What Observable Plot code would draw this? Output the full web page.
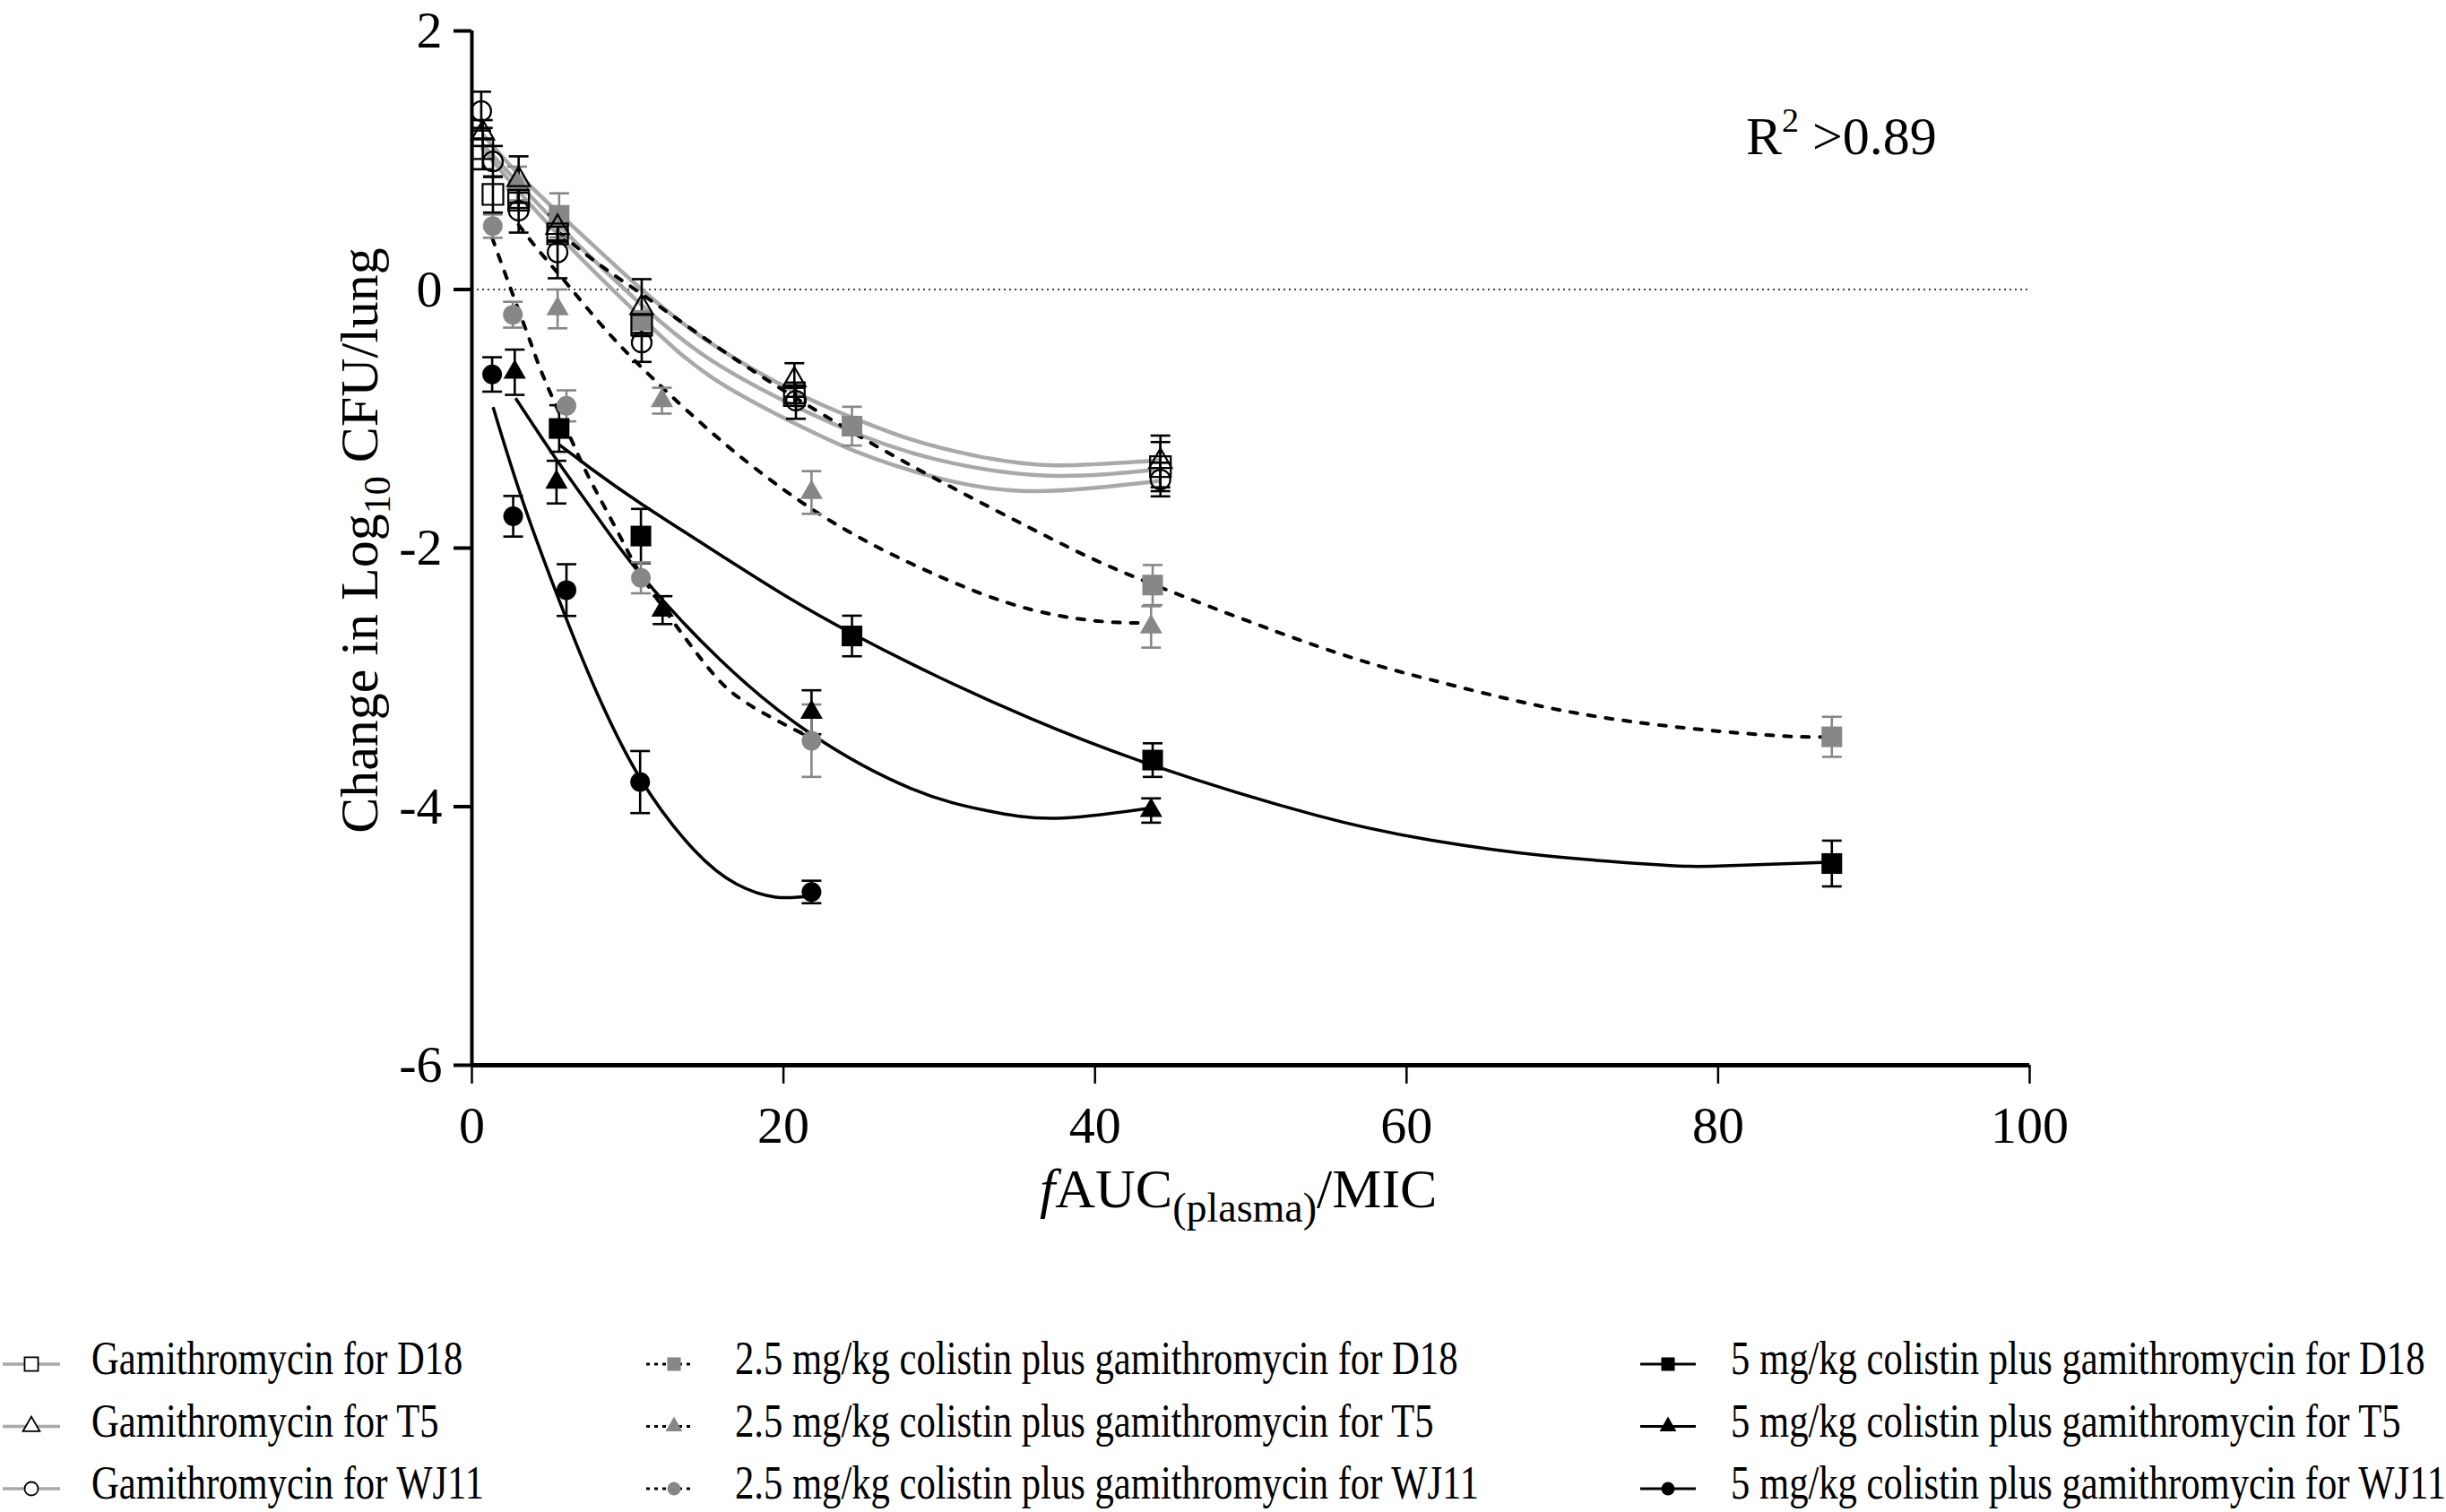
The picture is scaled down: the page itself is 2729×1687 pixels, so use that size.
<!DOCTYPE html>
<html>
<head>
<meta charset="utf-8">
<script src="https://cdn.jsdelivr.net/npm/d3@7"></script>
<script src="https://cdn.jsdelivr.net/npm/@observablehq/plot@0.6"></script>
<style>
  html, body { margin: 0; padding: 0; background: #fff; }
  body { width: 2729px; height: 1687px; overflow: hidden; }
  #chart svg, #legend svg { display: block; }
  #chart svg text, #legend svg text { font-family: "Liberation Serif", "Times New Roman", serif; }
</style>
</head>
<body>
<div id="chart"></div>
<div id="legend"></div>
<script>
// ---------- data ----------
const xTicks = [0, 20, 40, 60, 80, 100];
const yTicks = [-6, -4, -2, 0, 2];

// observed points: [fAUC/MIC, change in log10 CFU/lung, error]
const gamiD18  = [[0.7,1.09,0.16],[1.35,0.735,0.14],[3.0,0.69,0.06],[5.5,0.43,0.06],[10.9,-0.276,0.06],[20.7,-0.82,0.06],[44.2,-1.37,0.19]];
const gamiT5   = [[0.7,1.21,0.10],[3.0,0.85,0.18],[5.5,0.48,0.10],[10.9,-0.14,0.22],[20.7,-0.70,0.13],[44.2,-1.33,0.20]];
const gamiWJ11 = [[0.6,1.38,0.15],[1.35,0.99,0.12],[3.0,0.61,0.17],[5.5,0.287,0.20],[10.9,-0.41,0.15],[20.8,-0.86,0.14],[44.2,-1.47,0.13]];
const c25D18   = [[5.6,0.574,0.17],[10.9,-0.24,0.06],[24.4,-1.057,0.15],[43.7,-2.286,0.155],[87.3,-3.46,0.155]];
const c25T5    = [[2.9,0.82,0.13],[5.5,-0.15,0.15],[12.2,-0.86,0.10],[21.8,-1.57,0.165],[43.6,-2.61,0.16]];
const c25WJ11  = [[1.34,0.49,0.09],[2.63,-0.195,0.10],[6.07,-0.90,0.12],[10.85,-2.23,0.12],[21.8,-3.49,0.28]];
const c5D18    = [[5.6,-1.075,0.18],[10.85,-1.907,0.21],[24.4,-2.68,0.157],[43.7,-3.64,0.13],[87.3,-4.44,0.177]];
const c5T5     = [[2.75,-0.64,0.175],[5.43,-1.49,0.165],[12.24,-2.48,0.108],[21.8,-3.27,0.17],[43.6,-4.03,0.094]];
const c5WJ11   = [[1.3,-0.657,0.133],[2.65,-1.754,0.157],[6.07,-2.325,0.20],[10.8,-3.81,0.24],[21.8,-4.66,0.087]];

// fitted curves: [x, y]
const fitGamiD18  = [[0.7,1.12],[3.0,0.82],[6.2,0.42],[10.9,-0.12],[15.4,-0.55],[20.7,-0.9],[25,-1.13],[30,-1.32],[37,-1.44],[44.2,-1.39]];
const fitGamiT5   = [[0.7,1.2],[3.0,0.89],[6.2,0.52],[10.9,0.0],[15.4,-0.42],[20.7,-0.79],[24.4,-0.99],[28.2,-1.16],[32.5,-1.29],[37.4,-1.36],[44.2,-1.32]];
const fitGamiWJ11 = [[0.6,1.1],[3.0,0.76],[6.2,0.34],[10.9,-0.22],[15.4,-0.68],[20.8,-1.04],[25,-1.27],[30,-1.46],[36,-1.56],[44.2,-1.48]];
const fit25D18  = [[5.6,0.44],[8.1,0.2],[11.55,-0.09],[17.3,-0.57],[23.4,-1.03],[29.4,-1.44],[37.4,-1.94],[43.7,-2.28],[54.3,-2.76],[61.6,-3.02],[68.9,-3.23],[76.3,-3.37],[83.6,-3.45],[87.3,-3.46]];
const fit25T5   = [[3.0,0.5],[4.3,0.3],[6.2,0.03],[8.5,-0.3],[11.55,-0.68],[16.3,-1.2],[21.1,-1.64],[24.6,-1.9],[28.2,-2.12],[34.3,-2.42],[39.8,-2.56],[43.6,-2.58]];
const fit25WJ11 = [[1.3,0.4],[2.63,-0.04],[3.83,-0.43],[4.75,-0.72],[6.6,-1.22],[7.71,-1.5],[9.6,-1.93],[11.3,-2.29],[14.6,-2.84],[17.4,-3.18],[21.8,-3.47]];
const fit5D18   = [[5.6,-1.2],[7.7,-1.39],[10.9,-1.66],[16.3,-2.08],[20,-2.36],[24.4,-2.66],[30,-3.0],[35.9,-3.32],[43.7,-3.68],[54.3,-4.07],[61.6,-4.26],[68.9,-4.38],[76.3,-4.45],[80,-4.46],[87.3,-4.43]];
const fit5T5    = [[2.8,-0.84],[5.4,-1.31],[7.7,-1.7],[10.8,-2.2],[15.9,-2.86],[21.8,-3.44],[28.2,-3.86],[33,-4.03],[37.5,-4.09],[43.6,-4.01]];
const fit5WJ11  = [[1.36,-0.91],[3.5,-1.72],[6.3,-2.62],[8.1,-3.14],[10.8,-3.78],[14.3,-4.34],[17,-4.6],[19.5,-4.7],[21.8,-4.69]];

const labels = [
  "Gamithromycin for D18", "Gamithromycin for T5", "Gamithromycin for WJ11",
  "2.5 mg/kg colistin plus gamithromycin for D18", "2.5 mg/kg colistin plus gamithromycin for T5", "2.5 mg/kg colistin plus gamithromycin for WJ11",
  "5 mg/kg colistin plus gamithromycin for D18", "5 mg/kg colistin plus gamithromycin for T5", "5 mg/kg colistin plus gamithromycin for WJ11"
];

// ---------- styling ----------
const FONT = "Liberation Serif, Times New Roman, serif";
const GRAY_LINE = "#a9a9a9";
const GRAY = "#878787";
const kinds = {
  gami: {line: GRAY_LINE, width: 4.5, dash: null, fill: "none", stroke: "#000", err: "#000"},
  c25:  {line: "#000", width: 4, dash: "8,12", fill: GRAY, stroke: "none", err: GRAY},
  c5:   {line: "#000", width: 3.5, dash: null, fill: "#000", stroke: "none", err: "#000"}
};
const rOf = {square: 13, triangle: 9.3, circle: 11};

const series = [
  {label: labels[0], pts: gamiD18,  fit: fitGamiD18,  symbol: "square",   kind: "gami"},
  {label: labels[1], pts: gamiT5,   fit: fitGamiT5,   symbol: "triangle", kind: "gami"},
  {label: labels[2], pts: gamiWJ11, fit: fitGamiWJ11, symbol: "circle",   kind: "gami"},
  {label: labels[3], pts: c25D18,   fit: fit25D18,    symbol: "square",   kind: "c25"},
  {label: labels[4], pts: c25T5,    fit: fit25T5,     symbol: "triangle", kind: "c25"},
  {label: labels[5], pts: c25WJ11,  fit: fit25WJ11,   symbol: "circle",   kind: "c25"},
  {label: labels[6], pts: c5D18,    fit: fit5D18,     symbol: "square",   kind: "c5"},
  {label: labels[7], pts: c5T5,     fit: fit5T5,      symbol: "triangle", kind: "c5"},
  {label: labels[8], pts: c5WJ11,   fit: fit5WJ11,    symbol: "circle",   kind: "c5"}
];

const capSymbol = {
  draw(ctx, size) { const w = Math.sqrt(size / Math.PI); ctx.moveTo(-w, 0); ctx.lineTo(w, 0); }
};

const W = 2729, H = 1420;
const marks = [];
marks.push(Plot.ruleY([0], {stroke: "#000", strokeWidth: 1.6, strokeDasharray: "2,4"}));

// fitted lines
for (const s of series) {
  const k = kinds[s.kind];
  marks.push(Plot.line(s.fit, {
    x: d => d[0], y: d => d[1], curve: "natural",
    stroke: k.line, strokeWidth: k.width,
    strokeDasharray: k.dash ?? undefined, strokeLinecap: k.dash ? "round" : "butt"
  }));
}

// error bars + markers: black first, then gray, then open
const drawOrder = [6, 7, 8, 3, 4, 5, 0, 1, 2];
for (const i of drawOrder) {
  const s = series[i], k = kinds[s.kind];
  marks.push(Plot.ruleX(s.pts, {x: d => d[0], y1: d => d[1] - d[2], y2: d => d[1] + d[2], stroke: k.err, strokeWidth: 2.6}));
  marks.push(Plot.dot(s.pts, {x: d => d[0], y: d => d[1] + d[2], symbol: capSymbol, r: 11, stroke: k.err, strokeWidth: 2.6, fill: "none"}));
  marks.push(Plot.dot(s.pts, {x: d => d[0], y: d => d[1] - d[2], symbol: capSymbol, r: 11, stroke: k.err, strokeWidth: 2.6, fill: "none"}));
}
for (const i of drawOrder) {
  const s = series[i], k = kinds[s.kind];
  marks.push(Plot.dot(s.pts, {
    x: d => d[0], y: d => d[1], symbol: s.symbol, r: rOf[s.symbol],
    fill: k.fill, stroke: k.stroke, strokeWidth: k.stroke === "none" ? 0 : 2.2
  }));
}

// axes
marks.push(Plot.ruleX([0], {stroke: "#000", strokeWidth: 4}));
marks.push(Plot.ruleY([-6], {stroke: "#000", strokeWidth: 5}));
marks.push(Plot.axisY({ticks: yTicks, tickSize: 20, tickPadding: 13, strokeWidth: 4, fontSize: 58, fontFamily: FONT, tickFormat: d => String(d), label: null}));
marks.push(Plot.axisX({ticks: xTicks, tickSize: 21, tickPadding: 24, strokeWidth: 2.5, fontSize: 58, fontFamily: FONT, tickFormat: d => String(d), label: null}));

const chart = Plot.plot({
  width: W, height: H,
  marginLeft: 526, marginRight: 465, marginTop: 34, marginBottom: H - 1188,
  x: {domain: [0, 100]},
  y: {domain: [-6, 2]},
  style: {fontFamily: FONT, fontSize: "58px", color: "#000", background: "#fff", overflow: "visible"},
  marks
});

const svg = d3.select(chart);
// y-axis title
const yl = svg.append("text")
  .attr("transform", "translate(421,603) rotate(-90)")
  .attr("text-anchor", "middle").attr("font-size", 60).attr("font-family", FONT).attr("fill", "#000");
yl.append("tspan").text("Change in Log");
yl.append("tspan").attr("font-size", 42).attr("dy", 14).text("10");
yl.append("tspan").attr("dy", -14).text(" CFU/lung");

// x-axis title
const xl = svg.append("text")
  .attr("x", 1160).attr("y", 1347).attr("text-anchor", "start")
  .attr("font-size", 62).attr("font-family", FONT).attr("fill", "#000");
xl.append("tspan").attr("font-style", "italic").text("f");
xl.append("tspan").text("AUC");
xl.append("tspan").attr("font-size", 46).attr("dy", 16).text("(plasma)");
xl.append("tspan").attr("dy", -16).text("/MIC");

// R² annotation
const rt = svg.append("text")
  .attr("x", 1948).attr("y", 172).attr("text-anchor", "start")
  .attr("font-size", 60).attr("font-family", FONT).attr("fill", "#000");
rt.append("tspan").text("R");
rt.append("tspan").attr("font-size", 38).attr("dy", -25).text("2");
rt.append("tspan").attr("dy", 25).text(" >0.89");

document.getElementById("chart").appendChild(chart);

// ---------- legend (below the plot) ----------
const LH = 1687 - H;
const leg = d3.select("#legend").append("svg").attr("width", W).attr("height", LH);
const rowsY = [113, 182.5, 252];
const cols = [
  {x1: 3, x2: 67, mx: 35, tx: 102},
  {x1: 721, x2: 775, mx: 752, tx: 820},
  {x1: 1830, x2: 1892, mx: 1861, tx: 1931}
];
const d3Sym = {square: d3.symbolSquare, triangle: d3.symbolTriangle, circle: d3.symbolCircle};
const legR = {square: 8.5, triangle: 7, circle: 7.5};
series.forEach((s, i) => {
  const c = cols[Math.floor(i / 3)], yb = rowsY[i % 3], k = kinds[s.kind];
  const ym = yb - 11;
  leg.append("line").attr("x1", c.x1).attr("x2", c.x2).attr("y1", ym).attr("y2", ym)
    .attr("stroke", k.line).attr("stroke-width", s.kind === "gami" ? 3.5 : 3)
    .attr("stroke-dasharray", k.dash ? "4,5" : null);
  leg.append("path")
    .attr("transform", `translate(${c.mx},${ym})`)
    .attr("d", d3.symbol(d3Sym[s.symbol], Math.PI * legR[s.symbol] ** 2)())
    .attr("fill", s.kind === "gami" ? "#fff" : k.fill)
    .attr("stroke", s.kind === "gami" ? "#000" : "none")
    .attr("stroke-width", 1.8);
  leg.append("text")
    .attr("transform", `translate(${c.tx},${yb}) scale(0.82,1)`)
    .attr("text-anchor", "start")
    .attr("font-size", 52).attr("fill", "#000")
    .text(s.label);
});
</script>
</body>
</html>
